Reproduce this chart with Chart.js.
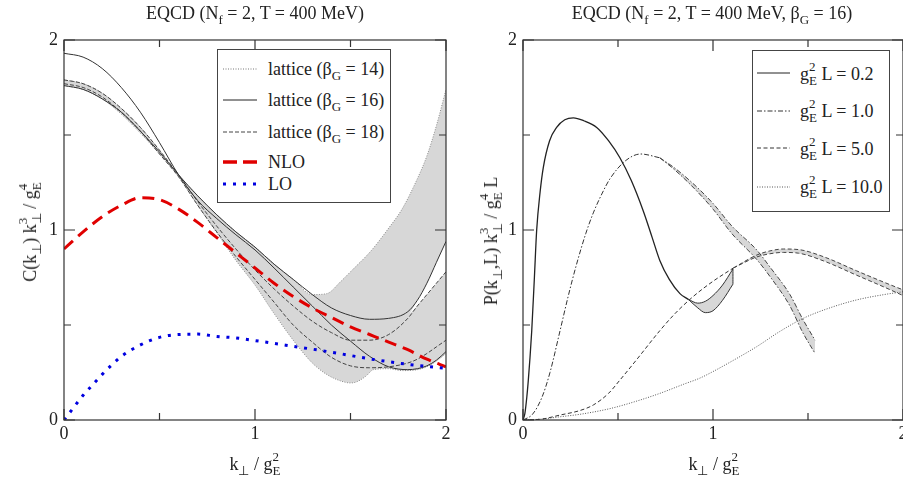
<!DOCTYPE html>
<html><head><meta charset="utf-8">
<script src="https://cdn.jsdelivr.net/npm/chart.js@4.4.1/dist/chart.umd.min.js"></script>
<style>
html,body{margin:0;padding:0;background:#fff;width:903px;height:481px;overflow:hidden;}
body{position:relative;font-family:'Liberation Serif','Times New Roman',serif;color:#222;}
canvas{position:absolute;top:0;}
#cL{left:0;} #cR{left:460px;}
.t{position:absolute;white-space:nowrap;font-size:18px;line-height:18px;z-index:3;}
.c{transform:translateX(-50%);}
.rot{transform:translate(-50%,-50%) rotate(-90deg);}
sub{font-size:13px;vertical-align:-5px;line-height:0;}
.ss{display:inline-block;position:relative;width:8px;height:0;}
.ss .u{position:absolute;left:0;bottom:7px;font-size:13px;line-height:13px;}
.ss .d{position:absolute;left:0;top:-6px;font-size:13px;line-height:13px;}
.box{position:absolute;background:#fff;border:1.3px solid #444;box-sizing:border-box;z-index:2;}
svg.s{position:absolute;z-index:3;overflow:visible;}
</style></head>
<body>
<canvas id="cL" width="460" height="481"></canvas>
<canvas id="cR" width="460" height="481"></canvas>

<div class="t c" style="left:255px;top:4px;">EQCD (N<sub>f</sub> = 2, T = 400 MeV)</div>
<div class="t c" style="left:712px;top:4px;">EQCD (N<sub>f</sub> = 2, T = 400 MeV, β<sub>G</sub> = 16)</div>

<div class="t c" style="left:255px;top:455px;">k<sub>⊥</sub> / g<span class="ss"><span class="u">2</span><span class="d">E</span></span></div>
<div class="t c" style="left:714px;top:455px;">k<sub>⊥</sub> / g<span class="ss"><span class="u">2</span><span class="d">E</span></span></div>

<div class="t rot" style="left:30px;top:232px;">C(k<sub>⊥</sub>) k<span class="ss" style="width:11px"><span class="u">3</span><span class="d">⊥</span></span> / g<span class="ss"><span class="u">4</span><span class="d">E</span></span></div>
<div class="t rot" style="left:491px;top:241px;">P(k<sub>⊥</sub>,L) k<span class="ss" style="width:11px"><span class="u">3</span><span class="d">⊥</span></span> / g<span class="ss"><span class="u">4</span><span class="d">E</span></span> L</div>

<!-- left legend -->
<div class="box" style="left:217px;top:49px;width:174px;height:154px;"></div>
<svg class="s" width="34" height="8" style="left:223px;top:65px"><line x1="0" y1="4" x2="34" y2="4" stroke="#777" stroke-width="1" stroke-dasharray="1 1.5"/></svg>
<svg class="s" width="34" height="8" style="left:223px;top:96px"><line x1="0" y1="4" x2="34" y2="4" stroke="#222" stroke-width="1"/></svg>
<svg class="s" width="34" height="8" style="left:223px;top:128px"><line x1="0" y1="4" x2="34" y2="4" stroke="#444" stroke-width="1" stroke-dasharray="4 2"/></svg>
<svg class="s" width="34" height="8" style="left:223px;top:158px"><line x1="0" y1="4" x2="34" y2="4" stroke="#e00000" stroke-width="3.5" stroke-dasharray="14 6"/></svg>
<svg class="s" width="34" height="8" style="left:223px;top:180px"><line x1="0" y1="4" x2="34" y2="4" stroke="#0000e0" stroke-width="3" stroke-dasharray="3 7"/></svg>
<div class="t" style="left:268px;top:60px;">lattice (β<sub>G</sub> = 14)</div>
<div class="t" style="left:268px;top:91px;">lattice (β<sub>G</sub> = 16)</div>
<div class="t" style="left:268px;top:123px;">lattice (β<sub>G</sub> = 18)</div>
<div class="t" style="left:268px;top:153px;">NLO</div>
<div class="t" style="left:268px;top:175px;">LO</div>

<!-- right legend -->
<div class="box" style="left:752px;top:50px;width:138px;height:162px;"></div>
<svg class="s" width="33" height="8" style="left:757px;top:69px"><line x1="0" y1="4" x2="33" y2="4" stroke="#222" stroke-width="1"/></svg>
<svg class="s" width="33" height="8" style="left:757px;top:107px"><line x1="0" y1="4" x2="33" y2="4" stroke="#333" stroke-width="1" stroke-dasharray="5 2 1.5 2"/></svg>
<svg class="s" width="33" height="8" style="left:757px;top:144px"><line x1="0" y1="4" x2="33" y2="4" stroke="#333" stroke-width="1" stroke-dasharray="4 2.5"/></svg>
<svg class="s" width="33" height="8" style="left:757px;top:183px"><line x1="0" y1="4" x2="33" y2="4" stroke="#555" stroke-width="1" stroke-dasharray="1 1.5"/></svg>
<div class="t" style="left:800px;top:65px;">g<span class="ss"><span class="u">2</span><span class="d">E</span></span> L = 0.2</div>
<div class="t" style="left:800px;top:102px;">g<span class="ss"><span class="u">2</span><span class="d">E</span></span> L = 1.0</div>
<div class="t" style="left:800px;top:140px;">g<span class="ss"><span class="u">2</span><span class="d">E</span></span> L = 5.0</div>
<div class="t" style="left:800px;top:178px;">g<span class="ss"><span class="u">2</span><span class="d">E</span></span> L = 10.0</div>

<script>
// ---------- Left panel data: C(k) k^3 / g_E^4 ----------
const kLine = [0,0.1,0.2,0.3,0.4,0.5,0.6,0.7,0.8,0.9,1.0,1.1,1.2,1.3,1.4,1.5,1.6,1.7,1.8,1.85,1.9,1.95,2.0];
const latA  = [1.76,1.74,1.69,1.62,1.52,1.41,1.29,1.18,1.08,0.99,0.91,0.82,0.74,0.66,0.59,0.55,0.53,0.535,0.57,0.63,0.72,0.83,0.94];
const latB  = [1.93,1.91,1.85,1.75,1.62,1.46,1.29,1.155,1.06,0.975,0.895,0.80,0.70,0.60,0.50,0.415,0.335,0.28,0.265,0.27,0.285,0.315,0.36];
const latC  = [1.79,1.77,1.72,1.64,1.54,1.42,1.29,1.15,1.02,0.90,0.79,0.69,0.60,0.52,0.46,0.42,0.42,0.45,0.535,0.60,0.66,0.72,0.78];
const latD  = [1.77,1.75,1.70,1.62,1.52,1.40,1.28,1.13,0.99,0.86,0.74,0.62,0.50,0.41,0.33,0.285,0.275,0.28,0.30,0.32,0.35,0.385,0.42];

// white gap inside the shaded region (between the upper solid and upper dashed curves)
const kHole   = [1.81,1.85,1.9,1.95,2.0];
const holeTop = [0.56,0.63,0.72,0.83,0.94];
const holeBot = [0.56,0.60,0.66,0.72,0.78];

const kEnv   = [0,0.1,0.2,0.3,0.4,0.5,0.6,0.7,0.8,0.9,1.0,1.1,1.2,1.3,1.375,1.45,1.5,1.53,1.58,1.62,1.7,1.77,1.85,1.9,1.95,2.0];
const envUp  = [1.79,1.77,1.72,1.64,1.54,1.42,1.29,1.18,1.08,0.99,0.91,0.82,0.74,0.66,0.665,0.73,0.78,0.81,0.86,0.905,1.01,1.11,1.27,1.39,1.55,1.74];
const envLow = [1.76,1.74,1.69,1.61,1.51,1.40,1.28,1.13,0.985,0.84,0.71,0.56,0.42,0.30,0.24,0.205,0.195,0.2,0.23,0.265,0.27,0.26,0.265,0.28,0.31,0.35];

const kNLO = [0,0.1,0.2,0.3,0.4,0.5,0.6,0.7,0.8,0.9,1.0,1.1,1.2,1.3,1.4,1.5,1.6,1.7,1.8,1.9,2.0];
const nlo  = [0.90,0.99,1.07,1.13,1.17,1.16,1.11,1.04,0.96,0.88,0.80,0.72,0.65,0.59,0.54,0.49,0.45,0.41,0.37,0.32,0.28];

const kLO = [0,0.05,0.1,0.15,0.2,0.25,0.3,0.4,0.5,0.6,0.7,0.8,0.9,1.0,1.2,1.4,1.6,1.8,2.0];
const lo  = [0,0.065,0.13,0.185,0.24,0.29,0.335,0.395,0.435,0.45,0.452,0.44,0.432,0.418,0.388,0.357,0.322,0.293,0.272];

// ---------- Right panel data: P(k,L) k^3 / g_E^4 L ----------
const kR02 = [0,0.01,0.02,0.028,0.037,0.046,0.06,0.072,0.09,0.107,0.14,0.177,0.22,0.265,0.32,0.388,0.45,0.51,0.57,0.633,0.68,0.72,0.77,0.826,0.87];
const p02  = [0,0.035,0.12,0.21,0.33,0.47,0.75,1.0,1.2,1.33,1.47,1.54,1.58,1.59,1.575,1.54,1.47,1.38,1.26,1.10,0.96,0.84,0.74,0.665,0.635];
const kB02 = [0.87,0.92,0.96,1.0,1.05,1.105];
const b02Up = [0.635,0.615,0.625,0.655,0.71,0.795];
const b02Lo = [0.635,0.59,0.565,0.575,0.63,0.715];

const kR1 = [0,0.05,0.1,0.142,0.195,0.24,0.282,0.33,0.37,0.42,0.458,0.54,0.62,0.72];
const p1  = [0,0.03,0.12,0.25,0.47,0.66,0.82,0.98,1.09,1.20,1.27,1.365,1.40,1.38];
const kB1 = [0.72,0.8,0.9,1.0,1.1,1.23,1.3,1.405,1.47,1.537];
const b1Up = [1.38,1.325,1.24,1.14,1.02,0.895,0.805,0.66,0.535,0.42];
const b1Lo = [1.38,1.315,1.22,1.11,0.98,0.845,0.755,0.60,0.465,0.35];

const kR5 = [0,0.1,0.195,0.3,0.37,0.45,0.51,0.6,0.72,0.8,0.896,1.0,1.107];
const p5  = [0,0.005,0.026,0.05,0.079,0.14,0.21,0.32,0.47,0.56,0.65,0.73,0.80];
const kB5 = [1.107,1.23,1.3,1.37,1.45,1.58,1.756,1.9,2.0];
const b5Up = [0.80,0.868,0.89,0.90,0.897,0.86,0.785,0.725,0.685];
const b5Lo = [0.80,0.858,0.875,0.882,0.878,0.838,0.762,0.70,0.655];

const kR10 = [0,0.1,0.195,0.3,0.458,0.6,0.72,0.85,0.93,1.0,1.1,1.23,1.35,1.475,1.6,1.756,1.9,2.0];
const p10  = [0,0.005,0.017,0.03,0.06,0.10,0.14,0.19,0.22,0.255,0.31,0.386,0.465,0.535,0.585,0.632,0.66,0.675];

// tick positions of both axes
const TICKS = [0, 0.5, 1, 1.5, 2];
const TICK_LABELS = ['0', '', '1', '', '2'];

// ---------- helpers ----------
const FONT = "'Liberation Serif','Times New Roman',serif";
const GREY = '#d7d7d7';
const pts = (xs, ys) => xs.map((x, i) => ({x, y: ys[i]}));
function ds(data, color, width, dash, extra) {
  return Object.assign({data, borderColor: color, borderWidth: width, borderDash: dash || [],
    pointRadius: 0, fill: false, cubicInterpolationMode: 'monotone', borderCapStyle: 'butt'}, extra || {});
}

const frameTicks = {
  id: 'frameTicks',
  afterDatasetsDraw(chart) {
    const {ctx, chartArea: a, scales: {x, y}} = chart;
    ctx.save();
    ctx.strokeStyle = '#333'; ctx.lineWidth = 1.2;
    ctx.strokeRect(a.left, a.top, a.right - a.left, a.bottom - a.top);
    ctx.beginPath();
    TICKS.forEach((v, i) => {
      const len = TICK_LABELS[i] ? 11 : 7;
      const px = x.getPixelForValue(v), py = y.getPixelForValue(v);
      ctx.moveTo(px, a.bottom); ctx.lineTo(px, a.bottom - len);
      ctx.moveTo(px, a.top); ctx.lineTo(px, a.top + len);
      ctx.moveTo(a.left, py); ctx.lineTo(a.left + len, py);
      ctx.moveTo(a.right, py); ctx.lineTo(a.right - len, py);
    });
    ctx.stroke();
    ctx.restore();
  }
};

function axis(isX, size) {
  return {
    type: 'linear', min: 0, max: 2,
    grid: {display: false, drawTicks: false}, border: {display: false},
    afterBuildTicks(s) { s.ticks = TICKS.map(v => ({value: v})); },
    ticks: {
      callback: (v) => TICK_LABELS[TICKS.indexOf(v)] ?? '',
      font: {family: FONT, size: 18}, color: '#222', padding: isX ? 3 : 6,
      autoSkip: false, maxRotation: 0, minRotation: 0
    },
    afterFit(s) {
      if (isX) { s.height = size; s.paddingLeft = 0; s.paddingRight = 0; }
      else { s.width = size; s.paddingTop = 0; s.paddingBottom = 0; }
    }
  };
}

function options(padRight, yWidth) {
  return {
    responsive: false, animation: false, devicePixelRatio: 1,
    layout: {padding: {top: 40, right: padRight, left: 0, bottom: 0}},
    plugins: {legend: {display: false}, tooltip: {enabled: false}, title: {display: false},
      filler: {drawTime: 'beforeDatasetsDraw'}},
    scales: {x: axis(true, 61), y: axis(false, yWidth)}
  };
}

// ---------- left chart ----------
new Chart(document.getElementById('cL'), {
  type: 'line',
  data: {datasets: [
    ds(pts(kLO, lo), '#0000e0', 3, [3, 6.8], {label: 'LO'}),
    ds(pts(kNLO, nlo), '#e00000', 3, [12, 7], {label: 'NLO'}),
    ds(pts(kLine, latB), '#333', 1, [], {label: 'lattice (βG = 16)'}),
    ds(pts(kLine, latA), '#333', 1, [], {label: 'lattice (βG = 16) band'}),
    ds(pts(kLine, latC), '#444', 1, [4, 2], {label: 'lattice (βG = 18)'}),
    ds(pts(kLine, latD), '#444', 1, [4, 2], {label: 'lattice (βG = 18) band'}),
    ds(pts(kHole, holeTop), 'rgba(0,0,0,0)', 0, [], {fill: 7, backgroundColor: '#ffffff'}),
    ds(pts(kHole, holeBot), 'rgba(0,0,0,0)', 0, []),
    ds(pts(kEnv, envUp), '#8a8a8a', 1, [1, 1.5], {fill: 9, backgroundColor: GREY, label: 'lattice (βG = 14)'}),
    ds(pts(kEnv, envLow), '#8a8a8a', 1, [1, 1.5])
  ]},
  options: options(14, 64),
  plugins: [frameTicks]
});

// ---------- right chart ----------
new Chart(document.getElementById('cR'), {
  type: 'line',
  data: {datasets: [
    ds(pts(kR02, p02), '#222', 1.3, [], {label: 'gE2 L = 0.2'}),
    ds(pts(kB02, b02Up), '#333', 1, [], {fill: 2, backgroundColor: GREY}),
    ds(pts(kB02, b02Lo), '#333', 1, []),
    ds(pts([kB02[kB02.length - 1], kB02[kB02.length - 1]], [b02Lo[b02Lo.length - 1], b02Up[b02Up.length - 1]]), '#333', 1, []),
    ds(pts(kR1, p1), '#333', 1, [5, 2, 1.5, 2], {label: 'gE2 L = 1.0'}),
    ds(pts(kB1, b1Up), '#444', 1, [5, 2, 1.5, 2], {fill: 6, backgroundColor: GREY}),
    ds(pts(kB1, b1Lo), '#444', 1, [5, 2, 1.5, 2]),
    ds(pts(kR5, p5), '#333', 1, [4, 2.5], {label: 'gE2 L = 5.0'}),
    ds(pts(kB5, b5Up), '#444', 1, [4, 2.5], {fill: 9, backgroundColor: GREY}),
    ds(pts(kB5, b5Lo), '#444', 1, [4, 2.5]),
    ds(pts(kR10, p10), '#555', 1, [1, 1.5], {label: 'gE2 L = 10.0'})
  ]},
  options: options(17, 63),
  plugins: [frameTicks]
});
</script>
</body></html>
